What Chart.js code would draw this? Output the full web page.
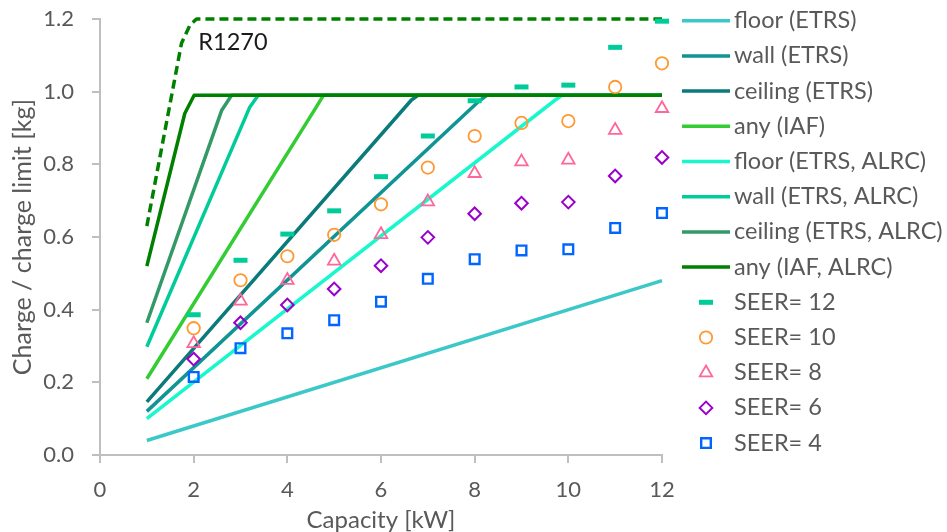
<!DOCTYPE html>
<html>
<head>
<meta charset="utf-8">
<script src="https://cdn.jsdelivr.net/npm/chart.js"></script>
<style>
  html, body { margin: 0; padding: 0; background: #fff; }
</style>
</head>
<body>
<canvas id="chart" width="947" height="532"></canvas>
<script>
// charge limit lines: capacity [kW] -> charge limit [kg]
const r1270X = [1, 1.74, 1.92, 2.06, 12];
const r1270Y = [0.63, 1.133, 1.183, 1.2, 1.2];
const floorEtrsX = [1, 12];
const floorEtrsY = [0.04, 0.48];
const wallEtrsX = [1, 8.1, 8.26, 12];
const wallEtrsY = [0.12, 0.975, 0.99, 0.99];
const ceilingEtrsX = [1, 6.65, 6.79, 12];
const ceilingEtrsY = [0.146, 0.977, 0.99, 0.99];
const anyIafX = [1, 4.62, 4.77, 12];
const anyIafY = [0.21, 0.958, 0.99, 0.99];
const floorAlrcX = [1, 9.7, 9.86, 12];
const floorAlrcY = [0.1, 0.975, 0.99, 0.99];
const wallAlrcX = [1, 3.2, 3.38, 12];
const wallAlrcY = [0.298, 0.958, 0.99, 0.99];
const ceilingAlrcX = [1, 2.6, 2.81, 12];
const ceilingAlrcY = [0.364, 0.949, 0.99, 0.99];
const anyAlrcX = [1, 1.81, 2.01, 12];
const anyAlrcY = [0.52, 0.94, 0.99, 0.99];

// charge for different SEER values
const seerX = [2, 3, 4, 5, 6, 7, 8, 9, 10, 11, 12];
const seer12 = [0.386, 0.536, 0.608, 0.672, 0.766, 0.878, 0.975, 1.013, 1.018, 1.122, 1.194];
const seer10 = [0.349, 0.481, 0.547, 0.606, 0.690, 0.791, 0.878, 0.914, 0.919, 1.013, 1.078];
const seer8 = [0.307, 0.424, 0.481, 0.534, 0.607, 0.697, 0.775, 0.807, 0.812, 0.894, 0.954];
const seer6 = [0.264, 0.364, 0.413, 0.457, 0.521, 0.599, 0.664, 0.693, 0.696, 0.768, 0.819];
const seer4 = [0.215, 0.294, 0.335, 0.371, 0.422, 0.485, 0.539, 0.563, 0.566, 0.625, 0.666];

const textColor = '#595959';
const axisColor = '#BFBFBF';
const fontFamily = 'Lato, "Open Sans", sans-serif';

function pts(xs, ys) {
  return xs.map((x, i) => ({ x: x, y: ys[i] }));
}

function lineSet(label, xs, ys, color, extra) {
  return Object.assign({
    label: label,
    data: pts(xs, ys),
    showLine: true,
    borderColor: color,
    backgroundColor: color,
    borderWidth: 3.5,
    borderJoinStyle: 'round',
    pointRadius: 0,
    fill: false,
    clip: false
  }, extra || {});
}

function markerSet(label, ys, color, style, radius, width) {
  return {
    label: label,
    data: pts(seerX, ys),
    showLine: false,
    pointStyle: style,
    pointRadius: radius,
    pointBorderWidth: width,
    pointBorderColor: color,
    pointBackgroundColor: 'rgba(0,0,0,0)',
    borderColor: color,
    backgroundColor: 'rgba(0,0,0,0)',
    clip: false
  };
}

const datasets = [
  lineSet('R1270', r1270X, r1270Y, '#008000', { borderDash: [9, 5], inLegend: false }),
  lineSet('floor (ETRS)', floorEtrsX, floorEtrsY, '#3CC8C8'),
  lineSet('wall (ETRS)', wallEtrsX, wallEtrsY, '#109494'),
  lineSet('ceiling (ETRS)', ceilingEtrsX, ceilingEtrsY, '#0A7A7A'),
  lineSet('any (IAF)', anyIafX, anyIafY, '#33CC33'),
  lineSet('floor (ETRS, ALRC)', floorAlrcX, floorAlrcY, '#19F7CC'),
  lineSet('wall (ETRS, ALRC)', wallAlrcX, wallAlrcY, '#00CC99'),
  lineSet('ceiling (ETRS, ALRC)', ceilingAlrcX, ceilingAlrcY, '#339966'),
  lineSet('any (IAF, ALRC)', anyAlrcX, anyAlrcY, '#008000'),
  markerSet('SEER= 12', seer12, '#00CC99', 'line', 7, 5),
  markerSet('SEER= 10', seer10, '#FF9933', 'circle', 6.2, 1.8),
  markerSet('SEER= 8', seer8, '#FF6699', 'triangle', 7.2, 1.8),
  markerSet('SEER= 6', seer6, '#9900CC', 'rectRot', 6.3, 2),
  markerSet('SEER= 4', seer4, '#0066FF', 'rect', 6.8, 2.4)
];
// later series are painted on top, like the original
datasets.forEach((ds, i) => { ds.order = -i; });

// legend on the right, drawn by hand so the samples match
const sideLegend = {
  id: 'sideLegend',
  afterDraw(chart) {
    const ctx = chart.ctx;
    ctx.save();
    ctx.font = '23.5px ' + fontFamily;
    ctx.textBaseline = 'middle';
    ctx.textAlign = 'left';
    let row = 0;
    chart.data.datasets.forEach(ds => {
      if (ds.inLegend === false) return;
      const y = 20.7 + row * 35.2;
      if (ds.showLine) {
        ctx.strokeStyle = ds.borderColor;
        ctx.lineWidth = ds.borderWidth;
        ctx.setLineDash([]);
        ctx.beginPath();
        ctx.moveTo(682, y);
        ctx.lineTo(730, y);
        ctx.stroke();
      } else {
        ctx.strokeStyle = ds.pointBorderColor;
        ctx.fillStyle = 'rgba(0,0,0,0)';
        ctx.lineWidth = ds.pointBorderWidth;
        Chart.helpers.drawPoint(ctx, {
          pointStyle: ds.pointStyle,
          radius: ds.pointRadius,
          borderWidth: ds.pointBorderWidth,
          rotation: 0
        }, 706, y);
      }
      ctx.fillStyle = textColor;
      ctx.fillText(ds.label, 734, y);
      row++;
    });
    ctx.restore();
  }
};

// "R1270" note next to the dashed line
const r1270Note = {
  id: 'r1270Note',
  afterDatasetsDraw(chart) {
    const { ctx, scales } = chart;
    ctx.save();
    ctx.font = '23.5px ' + fontFamily;
    ctx.fillStyle = '#1A1A1A';
    ctx.textBaseline = 'middle';
    ctx.fillText('R1270', scales.x.getPixelForValue(2.1), scales.y.getPixelForValue(1.136));
    ctx.restore();
  }
};

new Chart(document.getElementById('chart'), {
  type: 'scatter',
  data: { datasets: datasets },
  options: {
    responsive: false,
    animation: false,
    devicePixelRatio: 1,
    layout: { padding: { left: 0, right: 285, top: 19, bottom: 0 } },
    plugins: {
      legend: { display: false },
      tooltip: { enabled: false }
    },
    scales: {
      x: {
        type: 'linear',
        min: 0,
        max: 12,
        ticks: {
          stepSize: 2,
          color: textColor,
          padding: 14,
          font: { family: fontFamily, size: 22 }
        },
        grid: { drawOnChartArea: false, tickLength: 8, color: axisColor, lineWidth: 2 },
        border: { color: axisColor, width: 2 },
        title: {
          display: true,
          text: 'Capacity [kW]',
          color: textColor,
          font: { family: fontFamily, size: 24, lineHeight: 1 },
          padding: { top: 0, bottom: 0 }
        },
        afterFit(scale) { scale.height = 77; }
      },
      y: {
        min: 0,
        max: 1.2,
        ticks: {
          stepSize: 0.2,
          color: textColor,
          padding: 18,
          font: { family: fontFamily, size: 22 },
          callback: v => v.toFixed(1)
        },
        grid: { drawOnChartArea: false, tickLength: 8, color: axisColor, lineWidth: 2 },
        border: { color: axisColor, width: 2 },
        title: {
          display: true,
          text: 'Charge / charge limit [kg]',
          color: textColor,
          font: { family: fontFamily, size: 25, lineHeight: 1 },
          padding: { top: 10, bottom: 0 }
        },
        afterFit(scale) {
          scale.width = 100;
          // the label padding would otherwise push the plot top down
          scale.paddingTop = 0;
          scale.paddingBottom = 0;
        }
      }
    }
  },
  plugins: [sideLegend, r1270Note]
});
</script>
</body>
</html>
